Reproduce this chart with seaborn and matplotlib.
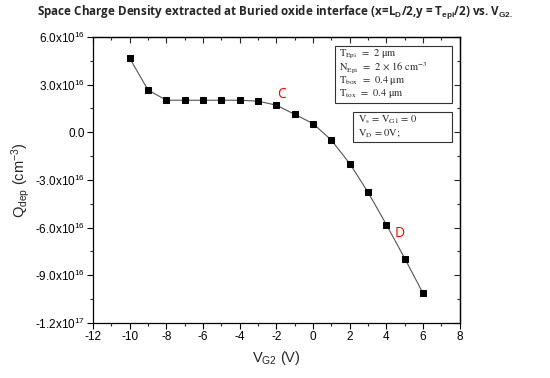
import numpy as np
import pandas as pd
import matplotlib
matplotlib.use("Agg")
import matplotlib.pyplot as plt
import seaborn as sns
from matplotlib.patches import Rectangle
from matplotlib.ticker import MultipleLocator

# V_G2 sweep and extracted space charge density (cm^-3)
vg2 = [-10, -9, -8, -7, -6, -5, -4, -3, -2, -1, 0, 1, 2, 3, 4, 5, 6]
qdep = [4.67e16, 2.67e16, 2.02e16, 2.02e16, 2.02e16, 2.02e16, 2.02e16, 1.96e16,
        1.71e16, 1.13e16, 0.55e16, -0.5e16, -1.97e16, -3.78e16, -5.82e16,
        -7.95e16, -10.15e16]

y_ticks = [6.0e16, 3.0e16, 0.0, -3.0e16, -6.0e16, -9.0e16, -1.2e17]
y_tick_labels = ["6.0x10$^{16}$", "3.0x10$^{16}$", "0.0", "-3.0x10$^{16}$",
                 "-6.0x10$^{16}$", "-9.0x10$^{16}$", "-1.2x10$^{17}$"]

box1_lines = ["T$_{\\mathrm{Epi}}$  =  2 μm",
              "N$_{\\mathrm{Epi}}$  =  2 × 16 cm$^{-3}$",
              "T$_{\\mathrm{box}}$  =  0.4 μm",
              "T$_{\\mathrm{tox}}$  =  0.4 μm"]
box2_lines = ["V$_{\\mathrm{s}}$ = V$_{\\mathrm{G1}}$ = 0",
              "V$_{\\mathrm{D}}$ = 0V;"]

sns.set_style("ticks")
plt.rcParams["font.family"] = ["Liberation Sans", "DejaVu Sans"]
plt.rcParams["axes.unicode_minus"] = False
plt.rcParams["mathtext.fontset"] = "custom"
plt.rcParams["mathtext.rm"] = "Liberation Sans"
plt.rcParams["mathtext.it"] = "Liberation Sans:italic"
plt.rcParams["mathtext.bf"] = "Liberation Sans:bold"

df = pd.DataFrame({"VG2": vg2, "Qdep": qdep})

fig = plt.figure(figsize=(5.5, 3.78), dpi=100)
ax = fig.add_axes([0.169, 0.146, 0.667, 0.756])

sns.lineplot(data=df, x="VG2", y="Qdep", ax=ax, color="#555555", linewidth=0.8,
             marker="s", markersize=5, markerfacecolor="black",
             markeredgecolor="black")

ax.set_xlim(-12, 8)
ax.set_ylim(-1.2e17, 6.0e16)
ax.xaxis.set_major_locator(MultipleLocator(2))
ax.xaxis.set_minor_locator(MultipleLocator(1))
ax.set_yticks(y_ticks)
ax.set_yticklabels(y_tick_labels)
ax.yaxis.set_minor_locator(MultipleLocator(1.5e16))

for side in ["top", "right", "left", "bottom"]:
    ax.spines[side].set_visible(True)
    ax.spines[side].set_color("black")
    ax.spines[side].set_linewidth(0.9)

ax.tick_params(axis="both", which="major", direction="out", length=4,
               width=0.8, labelsize=8.5, colors="black", pad=2)
ax.tick_params(axis="both", which="minor", direction="out", length=2.5,
               width=0.8)
# inward ticks on top and right, Origin style
ax2 = ax.secondary_xaxis("top")
ax2.xaxis.set_major_locator(MultipleLocator(2))
ax2.xaxis.set_minor_locator(MultipleLocator(1))
ax2.tick_params(which="major", direction="in", length=4, width=0.8, labeltop=False)
ax2.tick_params(which="minor", direction="in", length=2.5, width=0.8)
ax2.spines["top"].set_linewidth(0.9)
ay2 = ax.secondary_yaxis("right")
ay2.set_yticks(y_ticks)
ay2.yaxis.set_minor_locator(MultipleLocator(1.5e16))
ay2.tick_params(which="major", direction="in", length=4, width=0.8, labelright=False)
ay2.tick_params(which="minor", direction="in", length=2.5, width=0.8)
ay2.spines["right"].set_linewidth(0.9)

ax.set_xlabel("V$_{\\mathrm{G2}}$ (V)", fontsize=10.5, labelpad=4)
ax.set_ylabel("Q$_{\\mathrm{dep}}$ (cm$^{-3}$)", fontsize=10.5, labelpad=2)

ax.text(-1.7, 2.35e16, "C", color="red", fontsize=10, ha="center", va="center",
        family="Open Sans")
ax.text(4.7, -6.4e16, "D", color="red", fontsize=10, ha="center", va="center",
        family="Open Sans")


def text_box(x0, y0, x1, y1, tx, lines_y, lines):
    # framed parameter box in axes fractions
    ax.add_patch(Rectangle((x0, y0), x1 - x0, y1 - y0, transform=ax.transAxes,
                           fc="white", ec="#333333", lw=0.8, zorder=4))
    for ly, s in zip(lines_y, lines):
        ax.text(tx, ly, s, transform=ax.transAxes, fontsize=7.5,
                family="STIXGeneral", math_fontfamily="stix",
                va="center", ha="left", zorder=5)


text_box(0.659, 0.769, 0.980, 0.968, 0.672,
         [0.940, 0.893, 0.847, 0.803], box1_lines)
text_box(0.708, 0.634, 0.980, 0.737, 0.722,
         [0.712, 0.663], box2_lines)

fig.text(0.5, 0.965,
         "Space Charge Density extracted at Buried oxide interface "
         "(x=L$\\mathbf{_D}$/2,y = T$\\mathbf{_{epi}}$/2) vs. V$\\mathbf{_{G2.}}$",
         ha="center", va="center", fontsize=8.4, fontweight="bold",
         family="Open Sans")

fig.savefig("out.png", dpi=100)
